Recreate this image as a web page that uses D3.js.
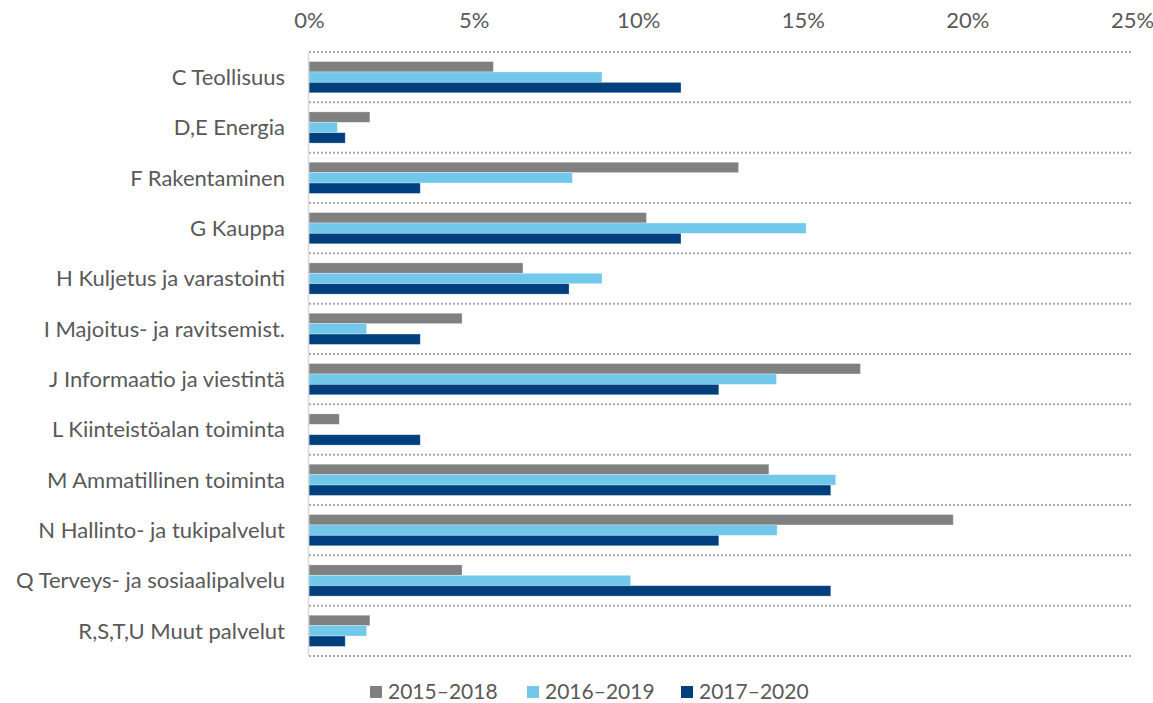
<!DOCTYPE html>
<html>
<head>
<meta charset="utf-8">
<script src="https://cdn.jsdelivr.net/npm/d3@7"></script>
<style>
	body { margin: 0; background: #fff; }
	text { font-family: Lato, "Open Sans", sans-serif; fill: #595959; }
	.axis .domain { display: none; }
	.axis line { display: none; }
</style>
</head>
<body>
<svg id="chart" width="1153" height="703"></svg>
<script>
// categories, top to bottom
var categories = [
	"C Teollisuus",
	"D,E Energia",
	"F Rakentaminen",
	"G Kauppa",
	"H Kuljetus ja varastointi",
	"I Majoitus- ja ravitsemist.",
	"J Informaatio ja viestintä",
	"L Kiinteistöalan toiminta",
	"M Ammatillinen toiminta",
	"N Hallinto- ja tukipalvelut",
	"Q Terveys- ja sosiaalipalvelu",
	"R,S,T,U Muut palvelut"
];

var seriesNames = ["2015–2018", "2016–2019", "2017–2020"];
var seriesColours = ["#808080", "#71c8eb", "#003f7d"];

// shares in %
var s2015 = [5.6, 1.85, 13.05, 10.25, 6.5, 4.65, 16.75, 0.92, 13.97, 19.57, 4.65, 1.85];
var s2016 = [8.9, 0.86, 8.0, 15.1, 8.9, 1.75, 14.2, 0, 16.0, 14.22, 9.77, 1.75];
var s2017 = [11.3, 1.1, 3.38, 11.3, 7.9, 3.38, 12.45, 3.38, 15.85, 12.45, 15.85, 1.1];

var xTicks = [0, 5, 10, 15, 20, 25];

var series = [s2015, s2016, s2017];

var svg = d3.select("#chart");

var plotLeft = 309, plotRight = 1132, plotTop = 52, plotBottom = 656;
var labelSize = "22px";
var legendSize = "21px";

var x = d3.scaleLinear().domain([0, 25]).range([plotLeft, plotRight]);

var y = d3
	.scaleBand()
	.domain(categories)
	.range([plotTop, plotBottom])
	.paddingInner(0.38)
	.paddingOuter(0.19);

var yInner = d3
	.scaleBand()
	.domain(seriesNames)
	.range([0, y.bandwidth()]);

// dotted gridlines between categories
var gridYs = d3.range(categories.length + 1).map(function(i) {
	return plotTop + i * y.step();
});

svg
	.selectAll(".grid")
	.data(gridYs)
	.enter()
	.append("line")
	.classed("grid", true)
	.attr("x1", plotLeft)
	.attr("x2", plotRight)
	.attr("y1", d => d)
	.attr("y2", d => d)
	.style("stroke", "#a6a6a6")
	.style("stroke-width", 2)
	.style("stroke-dasharray", "2,2");

// bars
var rows = categories.map(function(c, i) {
	return {
		cat: c,
		values: series.map(function(s, j) {
			return { name: seriesNames[j], value: s[i], colour: seriesColours[j] };
		})
	};
});

var g = svg
	.selectAll(".row")
	.data(rows)
	.enter()
	.append("g")
	.classed("row", true)
	.attr("transform", d => "translate(0," + y(d.cat) + ")");

g.selectAll("rect")
	.data(d => d.values.filter(v => v.value > 0))
	.enter()
	.append("rect")
	.attr("x", x(0))
	.attr("y", d => yInner(d.name))
	.attr("width", d => x(d.value) - x(0))
	.attr("height", yInner.bandwidth())
	.style("fill", d => d.colour)
	.style("stroke", "#fff")
	.style("stroke-opacity", 0.4)
	.style("stroke-width", 0.75);

// left axis line
svg
	.append("line")
	.attr("x1", plotLeft - 0.5)
	.attr("x2", plotLeft - 0.5)
	.attr("y1", plotTop)
	.attr("y2", plotBottom)
	.style("stroke", "#d9d9d9")
	.style("stroke-width", 1.5);

// category labels
svg
	.selectAll(".catLabel")
	.data(categories)
	.enter()
	.append("text")
	.classed("catLabel", true)
	.attr("x", plotLeft - 24)
	.attr("y", d => y(d) + y.bandwidth() / 2)
	.attr("dy", "0.35em")
	.attr("text-anchor", "end")
	.style("font-size", labelSize)
	.text(d => d);

// top axis
var xAxis = d3
	.axisTop(x)
	.tickValues(xTicks)
	.tickSize(0)
	.tickPadding(0)
	.tickFormat(d => d + "%");

svg
	.append("g")
	.classed("axis", true)
	.attr("transform", "translate(0,28)")
	.call(xAxis)
	.selectAll("text")
	.style("font-size", labelSize)
	.style("font-family", "Lato, 'Open Sans', sans-serif")
	.style("fill", "#595959");

// legend
var legendX = [370, 527, 681];
var legend = svg
	.selectAll(".legend")
	.data(seriesNames)
	.enter()
	.append("g")
	.classed("legend", true)
	.attr("transform", (d, i) => "translate(" + legendX[i] + ",686)");

legend
	.append("rect")
	.attr("width", 12)
	.attr("height", 12)
	.style("fill", (d, i) => seriesColours[i]);

legend
	.append("text")
	.attr("x", 18)
	.attr("y", 6)
	.attr("dy", "0.35em")
	.style("font-size", legendSize)
	.text(d => d);
</script>
</body>
</html>
